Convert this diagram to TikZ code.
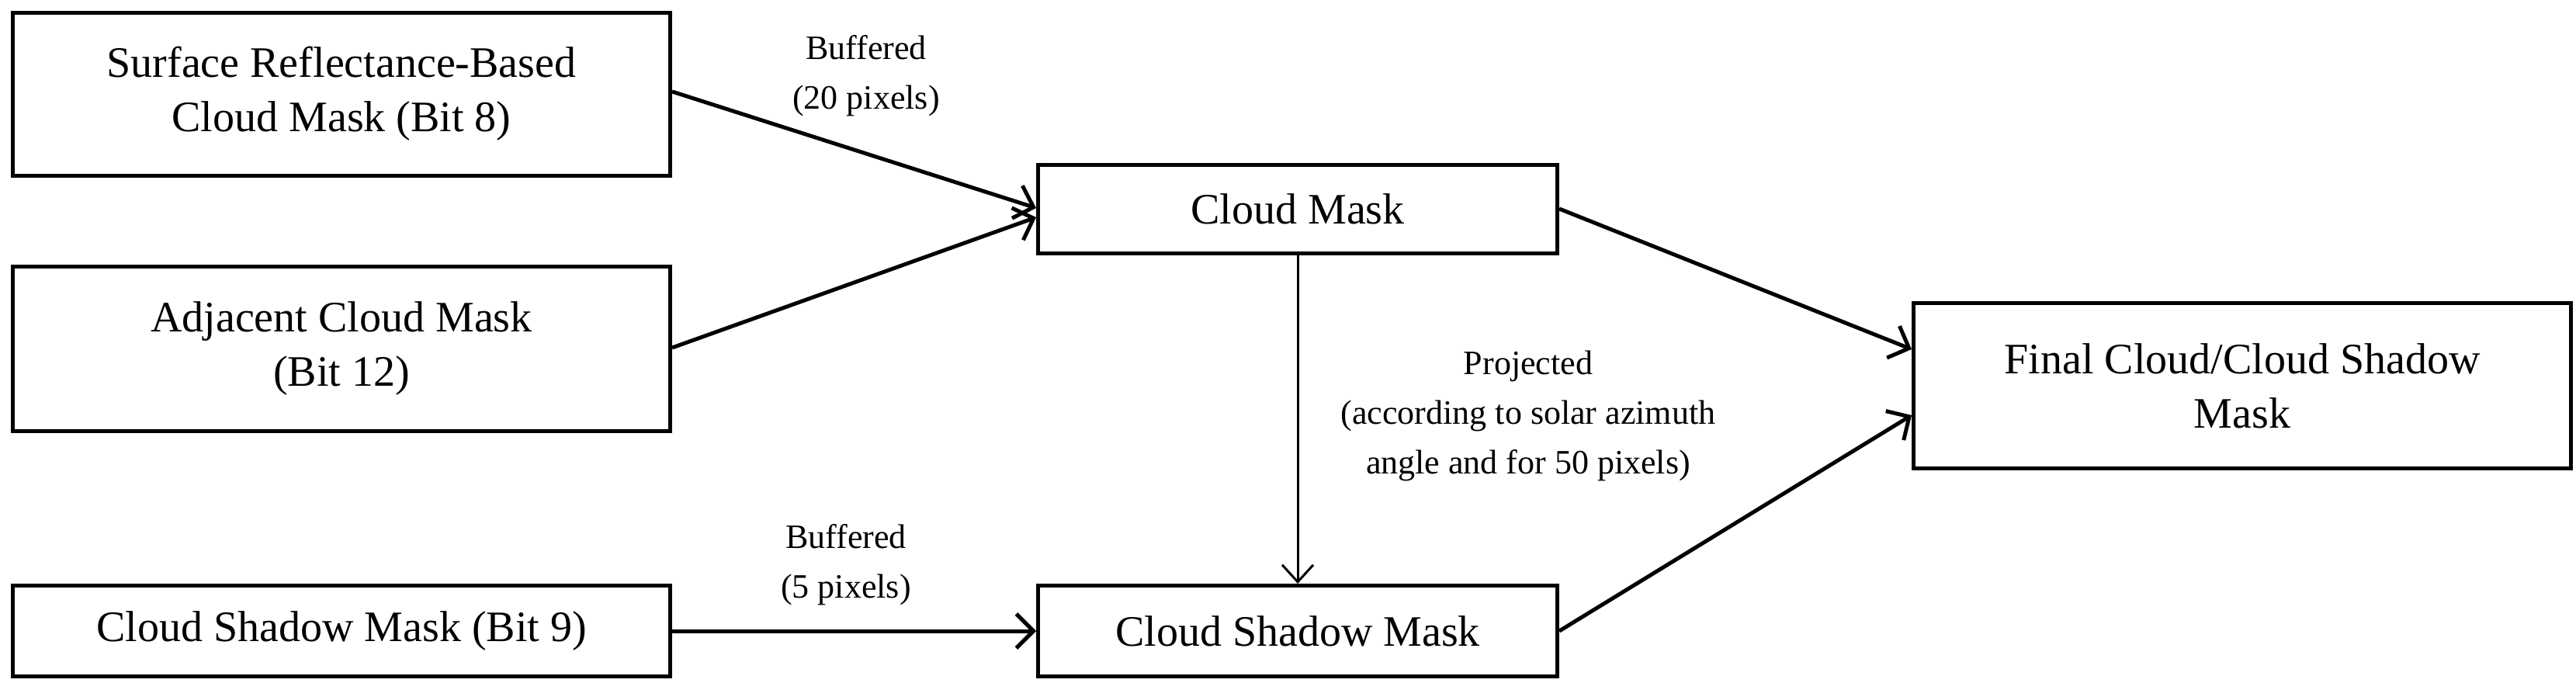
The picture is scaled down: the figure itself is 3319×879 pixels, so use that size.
\documentclass[tikz,border=0pt]{standalone}
\usepackage{fontspec}
\setmainfont{Liberation Serif}
\usetikzlibrary{arrows.meta}
\begin{document}
\begin{tikzpicture}[x=1pt,y=-1pt,
  box/.style={draw,line width=5pt,align=center,font=\fontsize{56}{70}\selectfont,inner sep=0pt},
  lab/.style={align=center,font=\fontsize{44}{64}\selectfont},
  arr/.style={line width=5pt,-{Straight Barb[length=22pt,width=44pt,line width=5pt]}}]
\useasboundingbox (0,0) rectangle (3319,879);
\node[box,minimum width=847pt,minimum height=210pt] (b1) at (440,121) {Surface Reflectance-Based\\Cloud Mask (Bit 8)};
\node[box,minimum width=847pt,minimum height=212pt] (b2) at (440,449) {Adjacent Cloud Mask\\(Bit 12)};
\node[box,minimum width=847pt,minimum height=117pt] (b3) at (440,813) {Cloud Shadow Mask (Bit 9)};
\node[box,minimum width=669pt,minimum height=114pt] (cm) at (1672,269) {Cloud Mask};
\node[box,minimum width=669pt,minimum height=117pt] (cs) at (1672,813) {Cloud Shadow Mask};
\node[box,minimum width=847pt,minimum height=213pt] (fm) at (2889,497) {Final Cloud/Cloud Shadow\\Mask};
\coordinate (p1) at (b1.east |- 0,118);
\coordinate (p2) at (b2.east |- 0,448);
\coordinate (q1) at (cm.west |- 0,268);
\coordinate (q2) at (cm.west |- 0,280);
\coordinate (r1) at (cm.east |- 0,269);
\coordinate (s1) at (fm.west |- 0,450);
\coordinate (r2) at (cs.east |- 0,813);
\coordinate (s2) at (fm.west |- 0,535);
\draw[arr] (p1) -- (q1);
\draw[arr] (p2) -- (q2);
\draw[arr] (r1) -- (s1);
\draw[arr] (r2) -- (s2);
\draw[arr] (b3.east) -- (cs.west);
\draw[line width=3pt,-{Straight Barb[length=22pt,width=40pt,line width=3pt]}] (cm.south) -- (cs.north);
\node[lab] (l1) at (1116,98) {Buffered\\(20 pixels)};
\node[lab] (l2) at (1090,728) {Buffered\\(5 pixels)};
\node[lab] (l3) at (1969,536) {Projected\\(according to solar azimuth\\angle and for 50 pixels)};
\end{tikzpicture}
\end{document}
